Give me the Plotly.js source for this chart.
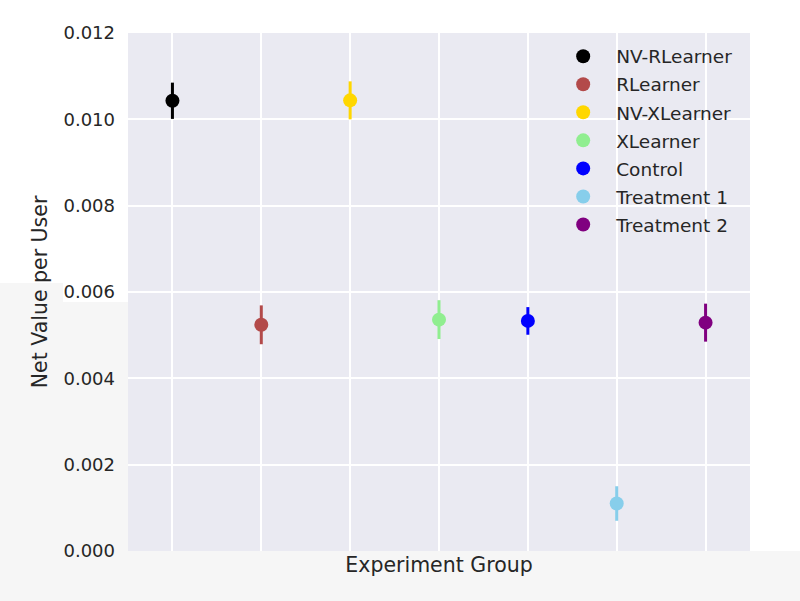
<!DOCTYPE html>
<html>
<head>
<meta charset="utf-8">
<script src="https://cdn.plot.ly/plotly-3.0.1.min.js"></script>
<style>html,body{margin:0;padding:0;background:#fff;}</style>
</head>
<body>
<div id="chart" style="width:800px;height:601px;"></div>
<script>
// Data
const groups = ["NV-RLearner", "RLearner", "NV-XLearner", "XLearner", "Control", "Treatment 1", "Treatment 2"];
const values = [0.01043, 0.00524, 0.01044, 0.00536, 0.00533, 0.00110, 0.00529];
const errors = [0.00042, 0.00045, 0.00044, 0.00045, 0.00032, 0.00040, 0.00044];
const colors = ["#000000", "#B34A4A", "#FFD700", "#90EE90", "#0000FF", "#87CEEB", "#800080"];
const yTicks = [0, 0.002, 0.004, 0.006, 0.008, 0.010, 0.012];

const textColor = "#262626";

const traces = groups.map((g, i) => ({
  type: "scatter",
  mode: "markers",
  name: g,
  x: [g],
  y: [values[i]],
  error_y: {type: "data", array: [errors[i]], visible: true, color: colors[i], thickness: 3, width: 0},
  marker: {color: colors[i], size: 14},
  legendgroup: g
}));

const W = 622, H = 518;
const layout = {
  width: 800,
  height: 601,
  margin: {l: 128, r: 50, t: 33, b: 50},
  paper_bgcolor: "#ffffff",
  plot_bgcolor: "#EAEAF2",
  font: {family: "DejaVu Sans", color: textColor, size: 17},
  showlegend: true,
  legend: {
    x: 0.981, xanchor: "right", y: 0.991, yanchor: "top",
    bgcolor: "rgba(0,0,0,0)",
    font: {family: "DejaVu Sans", size: 18.5, color: textColor},
    itemwidth: 56,
    tracegroupgap: 1
  },
  xaxis: {
    type: "category",
    categoryorder: "array",
    categoryarray: groups,
    range: [-0.5, groups.length - 0.5],
    showticklabels: false,
    showgrid: true,
    gridcolor: "#ffffff",
    gridwidth: 2,
    zeroline: false,
    showline: false,
    ticks: "",
    title: {text: "Experiment Group", font: {size: 20.5, color: textColor}, standoff: 6}
  },
  yaxis: {
    range: [0, 0.012],
    tickvals: yTicks,
    ticktext: yTicks.map(v => v.toFixed(3)),
    showgrid: true,
    gridcolor: "#ffffff",
    gridwidth: 2,
    zeroline: false,
    showline: false,
    ticks: "",
    ticklabelstandoff: 12,
    tickfont: {size: 18, color: textColor},
    title: {text: "Net Value per User", font: {size: 20.5, color: textColor}, standoff: 10}
  },
  shapes: [
    {type: "rect", xref: "paper", yref: "paper", x0: -0.5, x1: 1.5, y0: -0.3, y1: 0,
     fillcolor: "#F6F6F6", line: {width: 0}, layer: "below"},
    {type: "rect", xref: "paper", yref: "paper", x0: -0.5, x1: (63 - 128) / W, y0: 0, y1: (551 - 283) / H,
     fillcolor: "#F6F6F6", line: {width: 0}, layer: "below"},
    {type: "rect", xref: "paper", yref: "paper", x0: (63 - 128) / W, x1: 0, y0: 0, y1: (551 - 302) / H,
     fillcolor: "#F6F6F6", line: {width: 0}, layer: "below"}
  ]
};

Plotly.newPlot("chart", traces, layout, {displayModeBar: false, staticPlot: true});
</script>
</body>
</html>
